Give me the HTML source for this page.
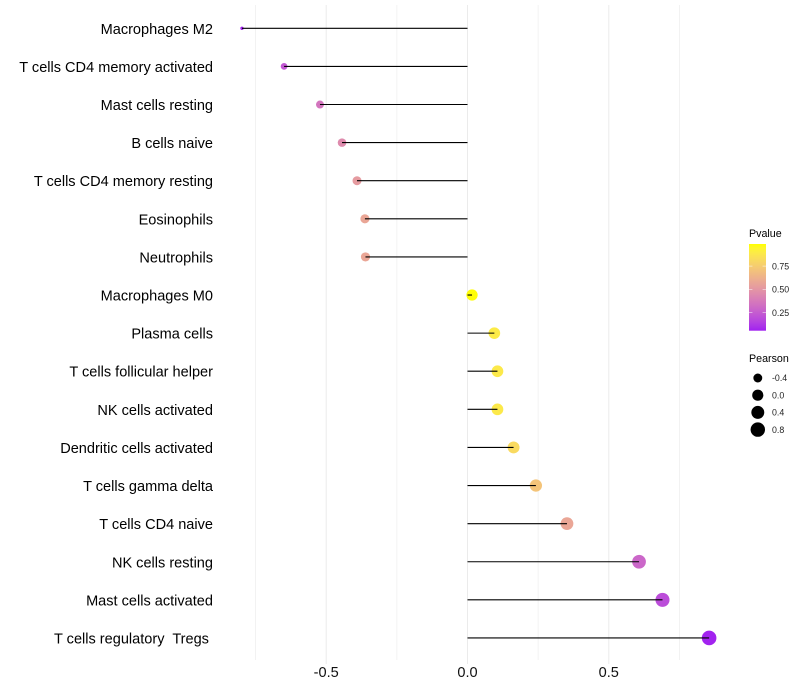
<!DOCTYPE html>
<html>
<head>
<meta charset="utf-8">
<style>
html,body{margin:0;padding:0;background:#fff;width:800px;height:700px;overflow:hidden}
svg{display:block}
text{font-family:"Liberation Sans",sans-serif}
</style>
</head>
<body>
<svg id="chart" width="800" height="700" viewBox="0 0 800 700" xmlns="http://www.w3.org/2000/svg"></svg>
<script>
const categories = ["Macrophages M2","T cells CD4 memory activated","Mast cells resting","B cells naive","T cells CD4 memory resting","Eosinophils","Neutrophils","Macrophages M0","Plasma cells","T cells follicular helper","NK cells activated","Dendritic cells activated","T cells gamma delta","T cells CD4 naive","NK cells resting","Mast cells activated","T cells regulatory  Tregs "];
const pearsonValues = [-0.798,-0.649,-0.522,-0.444,-0.391,-0.363,-0.361,0.016,0.095,0.106,0.106,0.163,0.242,0.352,0.607,0.69,0.855];
const pValues = [0.07,0.24,0.36,0.46,0.53,0.58,0.58,0.99,0.9,0.89,0.89,0.82,0.72,0.58,0.3,0.2,0.07];
const xTicks = [-0.5,0,0.5];
const xMinorTicks = [-0.75,-0.25,0.25,0.75];
const xTickLabels = ["-0.5","0.0","0.5"];
const pTicks = [0.75,0.5,0.25];
const pTickLabels = ["0.75","0.50","0.25"];
const pearsonLegend = [-0.4,0,0.4,0.8];
const pearsonLegendLabels = ["-0.4","0.0","0.4","0.8"];
const pDomain = [0.063,0.994];

const svg = document.getElementById('chart');
const NS = 'http://www.w3.org/2000/svg';
function make(tag, attrs, parent){
  const el = document.createElementNS(NS, tag);
  for (const k in attrs) el.setAttribute(k, attrs[k]);
  (parent || svg).appendChild(el);
  return el;
}
const xScale = v => 467.5 + v * 282.6;
const yScale = i => 28.3 + i * 38.104;
const pScale = p => 289.4 - (p - 0.5) * 93.2;
const pearsonMin = Math.min(...pearsonValues);
const pearsonMax = Math.max(...pearsonValues);
const radius = v => 1.7 + 5.6 * Math.sqrt(Math.max(0,(v - pearsonMin) / (pearsonMax - pearsonMin)));

function toLab(r,g,b){
  const f = c => { c/=255; return c<=0.04045 ? c/12.92 : Math.pow((c+0.055)/1.055,2.4); };
  const R=f(r),G=f(g),B=f(b);
  const X=(0.4124*R+0.3576*G+0.1805*B)/0.95047, Y=0.2126*R+0.7152*G+0.0722*B, Z=(0.0193*R+0.1192*G+0.9505*B)/1.08883;
  const h = t => t>0.008856 ? Math.cbrt(t) : 7.787*t+16/116;
  return [116*h(Y)-16, 500*(h(X)-h(Y)), 200*(h(Y)-h(Z))];
}
function fromLab(L,a,b){
  const fy=(L+16)/116, fx=fy+a/500, fz=fy-b/200;
  const h = t => t*t*t>0.008856 ? t*t*t : (t-16/116)/7.787;
  const X=h(fx)*0.95047, Y=h(fy), Z=h(fz)*1.08883;
  const l=[3.2406*X-1.5372*Y-0.4986*Z, -0.9689*X+1.8758*Y+0.0415*Z, 0.0557*X-0.204*Y+1.057*Z];
  const g = c => { c=Math.min(1,Math.max(0,c)); return Math.round(255*(c<=0.0031308 ? 12.92*c : 1.055*Math.pow(c,1/2.4)-0.055)); };
  return 'rgb('+g(l[0])+','+g(l[1])+','+g(l[2])+')';
}
const labLow = toLab(160,32,240);
const labHigh = toLab(255,255,0);
function pColor(p){
  const t = Math.min(1,Math.max(0,(p - pDomain[0]) / (pDomain[1] - pDomain[0])));
  return fromLab(labLow[0]+(labHigh[0]-labLow[0])*t, labLow[1]+(labHigh[1]-labLow[1])*t, labLow[2]+(labHigh[2]-labLow[2])*t);
}

/* gridlines */
xMinorTicks.forEach(v => {
  const l = make('line',{x1:xScale(v),x2:xScale(v),y1:5,y2:660,stroke:'#f0f0f0','stroke-width':0.8});
  
  
});
xTicks.forEach((v,i) => {
  const l = make('line',{x1:xScale(v),x2:xScale(v),y1:5,y2:664,stroke:'#ebebeb','stroke-width':1});
  
  
  const t = make('text',{x:xScale(v),y:677,'text-anchor':'middle','font-size':14.55,fill:'#111'});
  t.textContent = xTickLabels[i];
  
  
});

/* rows */
categories.forEach((c,i) => {
  const y = yScale(i);
  const t = make('text',{x:213,y:y+5.5,'text-anchor':'end','font-size':14.55,fill:'#000','xml:space':'preserve'});
  t.style.whiteSpace = 'pre';
  t.textContent = c;
  
  
  const d = make('circle',{cx:xScale(pearsonValues[i]),cy:y,r:radius(pearsonValues[i]),fill:pColor(pValues[i])});
  
  
  const l = make('line',{x1:xScale(0),x2:xScale(pearsonValues[i]),y1:y,y2:y,stroke:'#000','stroke-width':1.1});
  
  
});

/* Pvalue legend */
const pTitle = make('text',{x:749,y:237,'font-size':10.7,fill:'#000'});
pTitle.textContent = 'Pvalue';


const defs = make('defs',{});
const grad = make('linearGradient',{id:'pgrad',x1:0,y1:1,x2:0,y2:0},defs);
for (let s=0;s<=20;s++){
  make('stop',{offset:(s/20),'stop-color':pColor(pDomain[0]+(pDomain[1]-pDomain[0])*s/20)},grad);
}
const bar = make('rect',{x:749,y:244,width:17,height:86.7,fill:'url(#pgrad)'});


pTicks.forEach((p,i) => {
  const y = pScale(p);
  [[749,752.4],[762.6,766]].forEach(seg => {
    const m = make('line',{x1:seg[0],x2:seg[1],y1:y,y2:y,stroke:'#fff','stroke-width':0.6,'stroke-opacity':0.8});
    
    
  });
  const t = make('text',{x:772,y:y+3.2,'font-size':8.8,fill:'#222'});
  t.textContent = pTickLabels[i];
  
  
});

/* Pearson legend */
const sTitle = make('text',{x:749,y:362,'font-size':10.7,fill:'#000'});
sTitle.textContent = 'Pearson';


pearsonLegend.forEach((v,i) => {
  const y = 378 + i * 17.2;
  const d = make('circle',{cx:757.8,cy:y,r:radius(v),fill:'#000'});
  
  
  const t = make('text',{x:772,y:y+3.2,'font-size':8.8,fill:'#222'});
  t.textContent = pearsonLegendLabels[i];
  
  
});
</script>
</body>
</html>
